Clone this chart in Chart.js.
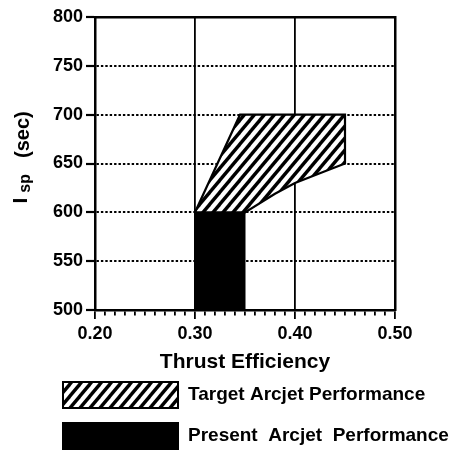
<!DOCTYPE html>
<html>
<head>
<meta charset="utf-8">
<script src="https://cdn.jsdelivr.net/npm/chart.js@4.4.1/dist/chart.umd.min.js"></script>
<style>
  html, body { margin: 0; padding: 0; background: #fff; }
</style>
</head>
<body>
<canvas id="arcjetChart" width="451" height="452"></canvas>
<script>
// Data
const targetEff = [0.30, 0.345, 0.45, 0.45, 0.43, 0.40, 0.38, 0.35, 0.30];
const targetIsp = [600, 700, 700, 650, 642, 630, 619, 600, 600];
const presentEff = [0.30, 0.35, 0.35, 0.30, 0.30];
const presentIsp = [500, 500, 600, 600, 500];
const seriesLabels = ['Target Arcjet Performance', 'Present  Arcjet  Performance'];
const effLabels = [0.20, 0.30, 0.40, 0.50];
const ispTicks = [500, 550, 600, 650, 700, 750, 800];
const xTitle = 'Thrust Efficiency';
const yTitleMain = 'I';
const yTitleSub = 'sp';
const yTitleUnit = '(sec)';

const FONT = '"Liberation Sans", Arial, Helvetica, sans-serif';

// hatch pattern (//// stripes)
function makeHatch() {
    const w = 10, h = 12;
    const c = document.createElement('canvas');
    c.width = w; c.height = h;
    const g = c.getContext('2d');
    g.fillStyle = '#fff';
    g.fillRect(0, 0, w, h);
    g.strokeStyle = '#000';
    g.lineWidth = 3.4;
    [-w, 0, w].forEach(off => {
        g.beginPath();
        g.moveTo(off - 1, h + 1.2);
        g.lineTo(off + w + 1, -1.2);
        g.stroke();
    });
    return g.createPattern(c, 'repeat');
}

function isMajor(v) {
    return effLabels.some(m => Math.abs(m - v) < 1e-6);
}

function toPoints(xs, ys) {
    return xs.map((x, i) => ({ x: x, y: ys[i] }));
}

// y axis title with subscript
const ispTitle = {
    id: 'ispTitle',
    afterDraw(chart, args, opts) {
        const ctx = chart.ctx;
        ctx.save();
        ctx.translate(opts.x, opts.y);
        ctx.rotate(-Math.PI / 2);
        ctx.fillStyle = '#000';
        ctx.textBaseline = 'alphabetic';
        let pos = 0;
        ctx.font = 'bold 21px ' + FONT;
        ctx.fillText(yTitleMain, pos, 0);
        pos += ctx.measureText(yTitleMain).width + 5;
        ctx.font = 'bold 16px ' + FONT;
        ctx.fillText(yTitleSub, pos, 3);
        pos += ctx.measureText(yTitleSub).width + 16;
        ctx.font = 'bold 20px ' + FONT;
        ctx.fillText(yTitleUnit, pos, 2);
        ctx.restore();
    }
};

// legend under the chart, boxes on the left
const boxLegend = {
    id: 'boxLegend',
    afterDraw(chart, args, opts) {
        const ctx = chart.ctx;
        chart.data.datasets.forEach((ds, i) => {
            const y = opts.rows[i];
            ctx.save();
            ctx.fillStyle = ds.backgroundColor;
            ctx.fillRect(opts.x, y, opts.boxWidth, opts.boxHeight);
            ctx.lineWidth = 2;
            ctx.strokeStyle = '#000';
            ctx.strokeRect(opts.x, y, opts.boxWidth, opts.boxHeight);
            ctx.font = 'bold 19px ' + FONT;
            ctx.fillStyle = '#000';
            ctx.textBaseline = 'middle';
            ctx.fillText(ds.label, opts.textX, y + opts.boxHeight / 2);
            ctx.restore();
        });
    }
};

const hatch = makeHatch();
const ctx = document.getElementById('arcjetChart').getContext('2d');

new Chart(ctx, {
    type: 'scatter',
    data: {
        datasets: [
            {
                label: seriesLabels[0],
                data: toPoints(targetEff, targetIsp),
                showLine: true,
                fill: 'shape',
                backgroundColor: hatch,
                borderColor: '#000',
                borderWidth: 2.2,
                pointRadius: 0,
                tension: 0
            },
            {
                label: seriesLabels[1],
                data: toPoints(presentEff, presentIsp),
                showLine: true,
                fill: 'shape',
                backgroundColor: '#000',
                borderColor: '#000',
                borderWidth: 1,
                pointRadius: 0,
                tension: 0
            }
        ]
    },
    options: {
        responsive: false,
        animation: false,
        layout: { padding: { top: 17, right: 56, left: 0, bottom: 0 } },
        plugins: {
            legend: { display: false },
            tooltip: { enabled: false },
            ispTitle: { x: 27, y: 203.5 },
            boxLegend: { x: 63, rows: [382, 423], boxWidth: 115, boxHeight: 26, textX: 188 }
        },
        scales: {
            x: {
                type: 'linear',
                position: 'bottom',
                min: 0.2,
                max: 0.5,
                afterFit: s => { s.height = 142; },
                ticks: {
                    stepSize: 0.01,
                    autoSkip: false,
                    maxRotation: 0,
                    minRotation: 0,
                    padding: 4,
                    color: '#000',
                    font: { family: FONT, size: 18, weight: 'bold' },
                    callback: v => isMajor(v) ? v.toFixed(2) : ''
                },
                grid: {
                    color: c => (c.tick && isMajor(c.tick.value)) ? '#000' : 'transparent',
                    lineWidth: 1.8,
                    tickLength: 9,
                    tickColor: '#000',
                    tickWidth: 1.8,
                    tickBorderDash: c => (c.tick && isMajor(c.tick.value)) ? [] : [4, 30]
                },
                border: { color: '#000', width: 2.5 },
                title: {
                    display: true,
                    text: xTitle,
                    color: '#000',
                    font: { family: FONT, size: 21, weight: 'bold' },
                    padding: { top: 0, bottom: 77 }
                }
            },
            y: {
                type: 'linear',
                position: 'left',
                min: 500,
                max: 800,
                afterFit: s => { s.width = 95; },
                afterBuildTicks: s => { s.ticks = ispTicks.map(v => ({ value: v })); },
                ticks: {
                    padding: 3,
                    color: '#000',
                    font: { family: FONT, size: 18, weight: 'bold' }
                },
                grid: {
                    color: c => (c.tick && (c.tick.value === 500 || c.tick.value === 800)) ? 'transparent' : '#000',
                    lineWidth: 2,
                    tickLength: 9,
                    tickColor: '#000',
                    tickWidth: 2.2
                },
                border: { color: '#000', width: 2.5, dash: [2.4, 2] }
            },
            xTop: {
                type: 'linear',
                position: 'top',
                min: 0.2,
                max: 0.5,
                afterFit: s => { s.height = 0; },
                ticks: { display: false },
                grid: { display: false, drawTicks: false },
                border: { display: true, color: '#000', width: 2.5 }
            },
            yRight: {
                type: 'linear',
                position: 'right',
                min: 500,
                max: 800,
                afterFit: s => { s.width = 0; },
                ticks: { display: false },
                grid: { display: false, drawTicks: false },
                border: { display: true, color: '#000', width: 2.5 }
            }
        }
    },
    plugins: [ispTitle, boxLegend]
});
</script>
</body>
</html>
